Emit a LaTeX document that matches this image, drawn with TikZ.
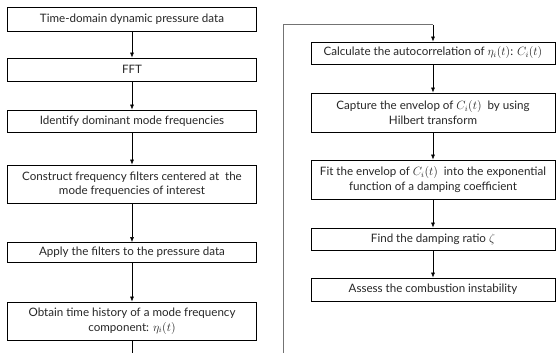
\documentclass[tikz,border=0pt]{standalone}
\usepackage{fontspec}
\setmainfont{Lato}
\usetikzlibrary{arrows.meta}
\begin{document}
\begin{tikzpicture}[x=1pt,y=-1pt,
  stepbox/.style={draw,line width=0.8pt,rectangle,align=center,inner sep=1pt,
    font=\fontsize{11.6}{14.5}\selectfont,text=black!85},
  lbox/.style={stepbox,minimum width=249pt},
  rbox/.style={stepbox,minimum width=244pt},
  flow/.style={-{Latex[length=5pt,width=4pt]},line width=0.6pt}]
\useasboundingbox (0,0) rectangle (557,353);
\node[lbox,minimum height=24pt] (b1) at (132,19) {Time-domain dynamic pressure data};
\node[lbox,minimum height=23pt] (b2) at (132,69.5) {FFT};
\node[lbox,minimum height=22pt] (b3) at (132,121) {Identify dominant mode frequencies};
\node[lbox,minimum height=38pt] (b4) at (132,184) {Construct frequency filters centered at~ the\\mode frequencies of interest};
\node[lbox,minimum height=20pt] (b5) at (132,252.5) {Apply the filters to the pressure data};
\node[lbox,minimum height=38pt] (b6) at (132,321) {Obtain time history of a mode frequency\\component: $\eta_i(t)$};
\node[rbox,minimum height=22pt] (r1) at (433,53) {Calculate the autocorrelation of $\eta_i(t)$: $C_i(t)$};
\node[rbox,minimum height=39pt] (r2) at (433,112.5) {Capture the envelop of $C_i(t)$~ by using\\Hilbert transform};
\node[rbox,minimum height=39pt] (r3) at (433,179.5) {Fit the envelop of $C_i(t)$~ into the exponential\\function of a damping coefficient};
\node[rbox,minimum height=22pt] (r4) at (433,239) {Find the damping ratio $\zeta$};
\node[rbox,minimum height=23pt] (r5) at (433,289.5) {Assess the combustion instability};
\coordinate (lend) at (132,353);
\coordinate (rend) at (283,353);
\coordinate (rtop) at (283,25);
\draw[flow] (b1) -- (b2);
\draw[flow] (b2) -- (b3);
\draw[flow] (b3) -- (b4);
\draw[flow] (b4) -- (b5);
\draw[flow] (b5) -- (b6);
\draw[line width=0.6pt] (b6) -- (lend);
\draw[line width=1pt,black!55] (rend) -- (rtop) -- (r1.north |- rtop);
\draw[flow] (r1.north |- rtop) -- (r1);
\draw[flow] (r1) -- (r2);
\draw[flow] (r2) -- (r3);
\draw[flow] (r3) -- (r4);
\draw[flow] (r4) -- (r5);
\end{tikzpicture}
\end{document}
